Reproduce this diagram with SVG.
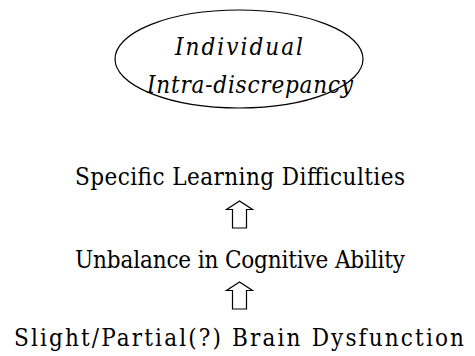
<svg xmlns="http://www.w3.org/2000/svg" width="475" height="356" viewBox="0 0 475 356">
  <style>
    .lbl { font-family: "DejaVu Serif Condensed", "DejaVu Serif", "Liberation Serif", serif; font-size: 24px; fill: #000; text-anchor: middle; }
    .it { font-style: italic; }
    .outline { fill: none; stroke: #000; stroke-width: 1.2; }
  </style>
  <defs>
    <!-- hollow upward block arrow -->
    <path id="uparrow" d="M0,0 L-13,8.5 L-7,8.5 L-7,27 L7,27 L7,8.5 L13,8.5 Z"/>
  </defs>
  <rect width="475" height="356" fill="#fff"/>

  <g id="individual">
    <ellipse class="outline" cx="239" cy="59" rx="124" ry="49"/>
    <text class="lbl it" x="239" y="55" textLength="128" lengthAdjust="spacing">Individual</text>
    <text class="lbl it" x="250" y="93" textLength="206" lengthAdjust="spacing">Intra-discrepancy</text>
  </g>

  <g id="learning">
    <text class="lbl" x="240" y="185" textLength="330" lengthAdjust="spacing">Specific Learning Difficulties</text>
  </g>

  <g id="cognitive">
    <text class="lbl" x="240" y="268" textLength="330" lengthAdjust="spacing">Unbalance in Cognitive Ability</text>
  </g>

  <g id="brain">
    <text class="lbl" x="239" y="346" textLength="450" lengthAdjust="spacing">Slight/Partial(?) Brain Dysfunction</text>
  </g>

  <g id="connectors">
    <use href="#uparrow" class="outline" x="239.5" y="201"/>
    <use href="#uparrow" class="outline" x="239.5" y="282"/>
  </g>
</svg>
